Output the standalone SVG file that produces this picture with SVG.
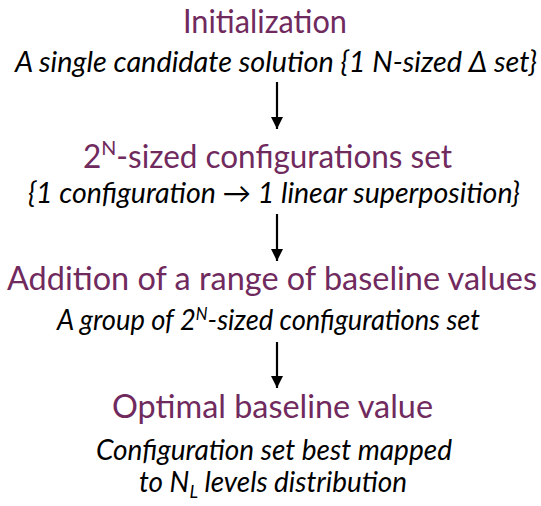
<svg xmlns="http://www.w3.org/2000/svg" width="541" height="506" viewBox="0 0 541 506">
<defs>
<marker id="ah" markerWidth="12" markerHeight="12" refX="12" refY="6" orient="auto" markerUnits="userSpaceOnUse">
<path d="M0,0 L12,6 L0,12 Z" fill="#000"/>
</marker>
<style>
.t{font-family:Lato,"Open Sans",sans-serif;font-size:32px;fill:#702a5e}
.s{font-family:Lato,"Open Sans",sans-serif;font-style:italic;font-size:28px;fill:#000}
.c line{stroke:#000;stroke-width:2.2}
</style>
</defs>
<rect width="541" height="506" fill="#fff"/>
<g id="n1">
<text class="t" x="183" y="33" textLength="164" lengthAdjust="spacingAndGlyphs">Initialization</text>
<text class="s" x="15" y="72" textLength="522" lengthAdjust="spacingAndGlyphs">A single candidate solution {1 N-sized Δ set}</text>
</g>
<g id="n2">
<text class="t" x="83" y="168" textLength="369" lengthAdjust="spacingAndGlyphs">2<tspan font-size="20" dy="-13">N</tspan><tspan dy="13">-sized configurations set</tspan></text>
<text class="s" x="28" y="203" textLength="492" lengthAdjust="spacingAndGlyphs">{1 configuration → 1 linear superposition}</text>
</g>
<g id="n3">
<text class="t" x="7" y="290" font-size="31" textLength="530" lengthAdjust="spacingAndGlyphs">Addition of a range of baseline values</text>
<text class="s" x="57" y="330" font-size="27" textLength="423" lengthAdjust="spacingAndGlyphs">A group of 2<tspan font-size="17" dy="-10">N</tspan><tspan dy="10">-sized configurations set</tspan></text>
</g>
<g id="n4">
<text class="t" x="112" y="418" textLength="321" lengthAdjust="spacingAndGlyphs">Optimal baseline value</text>
<text class="s" x="96" y="460" textLength="356" lengthAdjust="spacingAndGlyphs">Configuration set best mapped</text>
<text class="s" x="139" y="492" textLength="268" lengthAdjust="spacingAndGlyphs">to N<tspan font-size="18" dy="6">L</tspan><tspan dy="-6"> levels distribution</tspan></text>
</g>
<g class="c" id="connectors">
<line x1="277" y1="82" x2="277" y2="129" marker-end="url(#ah)"/>
<line x1="277" y1="214" x2="277" y2="261" marker-end="url(#ah)"/>
<line x1="277" y1="342" x2="277" y2="388" marker-end="url(#ah)"/>
</g>
</svg>
